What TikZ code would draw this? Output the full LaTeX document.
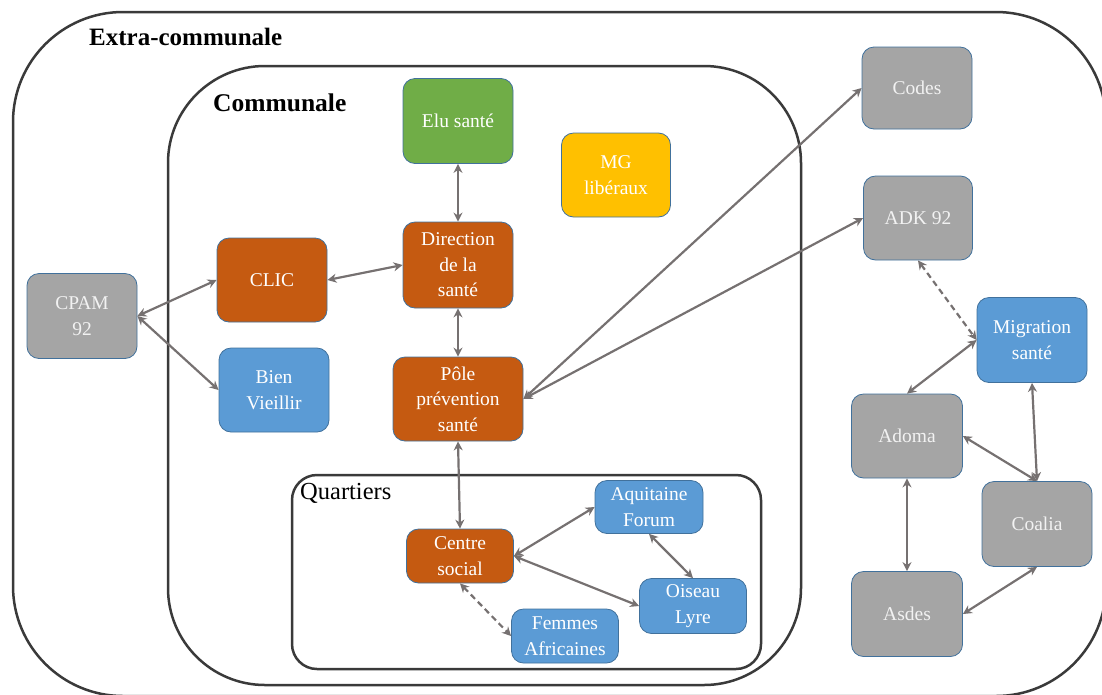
\documentclass[tikz,border=0pt]{standalone}
\usepackage{fontspec}
\setmainfont{Liberation Serif}
\usetikzlibrary{arrows.meta}
\definecolor{cgreen}{HTML}{70AD47}
\definecolor{cyellow}{HTML}{FFC000}
\definecolor{corange}{HTML}{C55A11}
\definecolor{cblue}{HTML}{5B9BD5}
\definecolor{cgrey}{HTML}{A5A5A5}
\definecolor{bordc}{HTML}{41719C}
\definecolor{arrc}{HTML}{767171}
\definecolor{contc}{HTML}{3A3A3A}
\begin{document}
\begin{tikzpicture}[x=1pt,y=-1pt,
  box/.style={rounded corners=12pt, draw=bordc, line width=0.8pt, align=center,
    text=white, font=\fontsize{19.5}{25.5}\selectfont, inner sep=0pt,
    minimum width=110pt, minimum height=85pt},
  sbox/.style={box, minimum width=107pt, minimum height=54pt},
  greybox/.style={box, fill=cgrey, text=white!95!black},
  link/.style={draw=arrc, line width=2.2pt,
    {Stealth[length=9pt,width=9pt]}-{Stealth[length=9pt,width=9pt]}},
  dlink/.style={link, dash pattern=on 6pt off 4pt},
  container/.style={draw=contc, line width=2.5pt},
  header/.style={font=\fontsize{24.5}{28}\selectfont, anchor=west, inner sep=0pt}]
\useasboundingbox (0,0) rectangle (1102,694);
\begin{scope}
\clip (0,0) rectangle (1102,694);
\draw[container, rounded corners=110pt] (13,12) rectangle (1106,696);
\draw[container, rounded corners=97pt] (168,66) rectangle (801,685);
\draw[container, rounded corners=25pt] (292,475) rectangle (761,669);
\end{scope}
\node[header, font=\fontsize{25}{28}\selectfont\bfseries] (lextra) at (89,37) {Extra-communale};
\node[header, font=\fontsize{25.5}{28}\selectfont\bfseries] (lcomm) at (213,103) {Communale};
\node[header] (lquart) at (300,493) {Quartiers};
% communal nodes
\node[box, fill=cgreen] (elu) at (458,121) {Elu santé};
\node[box, fill=cyellow, minimum width=109pt, minimum height=84pt] (mg) at (616,175) {MG\\libéraux};
\node[box, fill=corange, minimum height=86pt] (dir) at (458,265) {Direction\\de la\\santé};
\node[box, fill=corange, minimum width=130pt, minimum height=84pt] (pole) at (458,399) {Pôle\\prévention\\santé};
\node[box, fill=corange, minimum height=84pt] (clic) at (272,280) {CLIC};
\node[box, fill=cblue, minimum height=84pt] (bien) at (274,390) {Bien\\Vieillir};
% extra-communal
\node[greybox] (cpam) at (82,316) {CPAM\\92};
\node[greybox, minimum height=82pt] (codes) at (917,88) {Codes};
\node[greybox, minimum width=109pt, minimum height=84pt] (adk) at (918,218) {ADK 92};
\node[box, fill=cblue] (migr) at (1032,340) {Migration\\santé};
\node[greybox, minimum width=111pt, minimum height=84pt] (adoma) at (907,436) {Adoma};
\node[greybox] (coalia) at (1037,524) {Coalia};
\node[greybox, minimum width=111pt] (asdes) at (907,614) {Asdes};
% quartiers
\node[sbox, fill=corange] (cs) at (460,556) {Centre\\social};
\node[sbox, fill=cblue, minimum width=108pt, minimum height=53pt] (aqui) at (649,507) {Aquitaine\\Forum};
\node[sbox, fill=cblue, minimum height=55pt] (oiseau) at (693,606) {Oiseau\\Lyre};
\node[sbox, fill=cblue] (femmes) at (565,636) {Femmes\\Africaines};
% connectors
\draw[link] (elu.south) -- (dir.north);
\draw[link] (clic.east) -- (dir.west);
\draw[link] (dir.south) -- (pole.north);
\draw[link] (pole.east) -- (codes.west);
\draw[link] (pole.east) -- (adk.west);
\draw[link] (pole.south) -- (cs.north);
\draw[link] (cpam.east) -- (clic.west);
\draw[link] (cpam.east) -- (bien.west);
\draw[link] (cs.east) -- (aqui.west);
\draw[link] (cs.east) -- (oiseau.west);
\draw[link] (aqui.south) -- (oiseau.north);
\draw[dlink] (cs.south) -- (femmes.west);
\draw[dlink] (adk.south) -- (migr.west);
\draw[link] (migr.west) -- (adoma.north);
\draw[link] (migr.south) -- (coalia.north);
\draw[link] (adoma.east) -- (coalia.north);
\draw[link] (adoma.south) -- (asdes.north);
\draw[link] (asdes.east) -- (coalia.south);
\end{tikzpicture}
\end{document}
